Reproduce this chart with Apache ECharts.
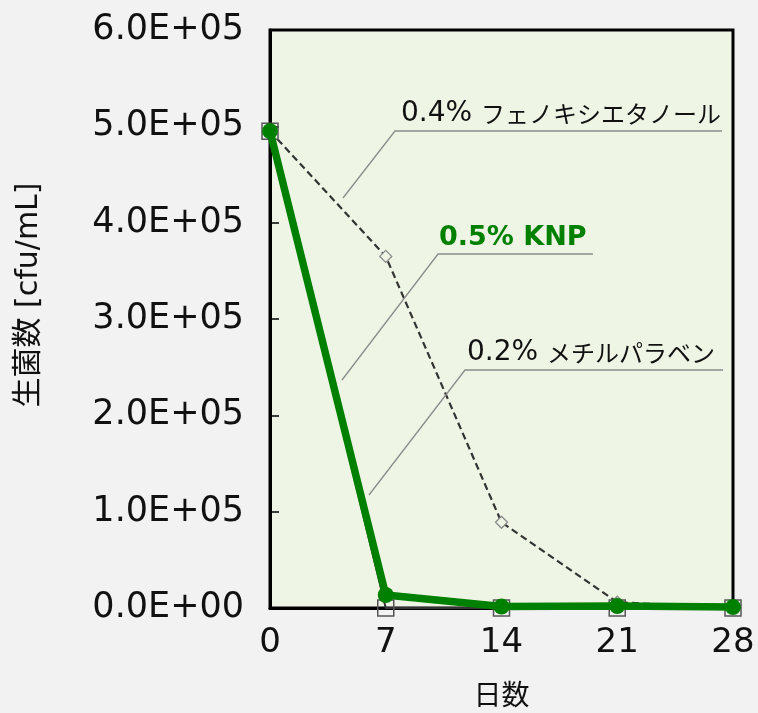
<!DOCTYPE html>
<html>
<head>
<meta charset="utf-8">
<script src="https://cdn.jsdelivr.net/npm/echarts@6/dist/echarts.min.js"></script>
<style>
html, body { margin: 0; padding: 0; background: #f2f2f2; }
#chart { width: 758px; height: 713px; }
</style>
</head>
<body>
<div id="chart"></div>
<script>
var days = [0, 7, 14, 21, 28];
var phenoxyValues = [495000, 365000, 89000, 6000, 0];
var parabenValues = [495000, 0, 0, 0, 0];
var knpValues = [495000, 13500, 1500, 2000, 1000];
var seriesNames = ['0.4% フェノキシエタノール', '0.2% メチルパラベン', '0.5% KNP'];

function pairs(vals) {
	return days.map(function (d, i) { return [d, vals[i]]; });
}

// 6.0E+05 style labels
function sci(v) {
	if (v === 0) return '0.0E+00';
	var e = Math.floor(Math.log10(v));
	var m = v / Math.pow(10, e);
	return m.toFixed(1) + 'E+' + (e < 10 ? '0' + e : e);
}

var font = '"DejaVu Sans", "Noto Sans CJK JP", sans-serif';
var jpFont = '"Noto Sans CJK JP", sans-serif';
var myChart = echarts.init(document.getElementById('chart'));

// leader line + underline + label (pixel positions)
function note(pct, rest, tx, ty, x0, y0, x1, y1, x2, color, bold) {
	var rich = bold ? {
		a: { font: 'bold 27px ' + font, fill: color }
	} : {
		a: { font: '28px ' + font, fill: color },
		b: { font: '24px ' + jpFont, fill: color }
	};
	return [
		{ type: 'polyline', z: 20, shape: { points: [[x0, y0], [x1, y1], [x2, y1]] },
		  style: { stroke: '#8c8c8c', lineWidth: 1.3, fill: null } },
		{ type: 'text', z: 20, x: tx, y: ty,
		  style: { text: bold ? '{a|' + pct + ' ' + rest + '}' : '{a|' + pct + ' }{b|' + rest + '}',
		           rich: rich, verticalAlign: 'bottom' } }
	];
}

var graphics = []
	.concat(note('0.4%', 'フェノキシエタノール', 401, 128, 343, 198, 395, 131, 722, '#111', false))
	.concat(note('0.5%', 'KNP', 439, 251, 342, 380, 438, 254, 593, '#008000', true))
	.concat(note('0.2%', 'メチルパラベン', 467, 367, 369, 495, 465, 370, 723, '#111', false))
	.concat([{
		type: 'text', x: 29, y: 295, rotation: Math.PI / 2,
		style: { text: '生菌数 [cfu/mL]', font: '30px ' + font, fill: '#111', align: 'center', verticalAlign: 'middle' }
	}]);

var option = {
	backgroundColor: '#f2f2f2',
	animation: false,
	grid: {
		left: 270, right: 25, top: 30, bottom: 104,
		show: true, backgroundColor: '#eef5e5', borderColor: '#000', borderWidth: 3
	},
	xAxis: {
		type: 'value', min: 0, max: 28, interval: 7,
		name: '日数', nameLocation: 'middle', nameGap: 72,
		nameTextStyle: { fontSize: 28, color: '#111', fontFamily: jpFont },
		axisLine: { lineStyle: { color: '#000', width: 3 } },
		axisTick: { show: false },
		splitLine: { show: false },
		axisLabel: { fontSize: 34, color: '#111', fontFamily: font, margin: 18 }
	},
	yAxis: {
		type: 'value', min: 0, max: 600000, interval: 100000,
		axisLine: { show: true, lineStyle: { color: '#000', width: 3 } },
		axisTick: { show: true, inside: true, length: 9, lineStyle: { color: '#000', width: 1.5 } },
		splitLine: { show: false },
		axisLabel: { fontSize: 35, color: '#111', fontFamily: font, margin: 26, formatter: sci }
	},
	series: [
		{
			name: seriesNames[0], type: 'line', data: pairs(phenoxyValues), z: 3,
			symbol: 'diamond', symbolSize: 12, showAllSymbol: true,
			lineStyle: { color: '#333', width: 2.2, type: [7, 4] },
			itemStyle: { color: '#eef5e5', borderColor: '#8a8a8a', borderWidth: 1.3 }
		},
		{
			name: seriesNames[1], type: 'line', data: pairs(parabenValues), z: 4,
			symbol: 'rect', symbolSize: 16,
			lineStyle: { color: '#333', width: 2 },
			itemStyle: { color: 'rgba(0,0,0,0)', borderColor: '#555', borderWidth: 1.5 }
		},
		{
			name: seriesNames[2], type: 'line', data: pairs(knpValues), z: 5,
			symbol: 'circle', symbolSize: 16,
			lineStyle: { color: '#008000', width: 7.5 },
			itemStyle: { color: '#008000' }
		}
	],
	graphic: graphics
};
myChart.setOption(option);
</script>
</body>
</html>
